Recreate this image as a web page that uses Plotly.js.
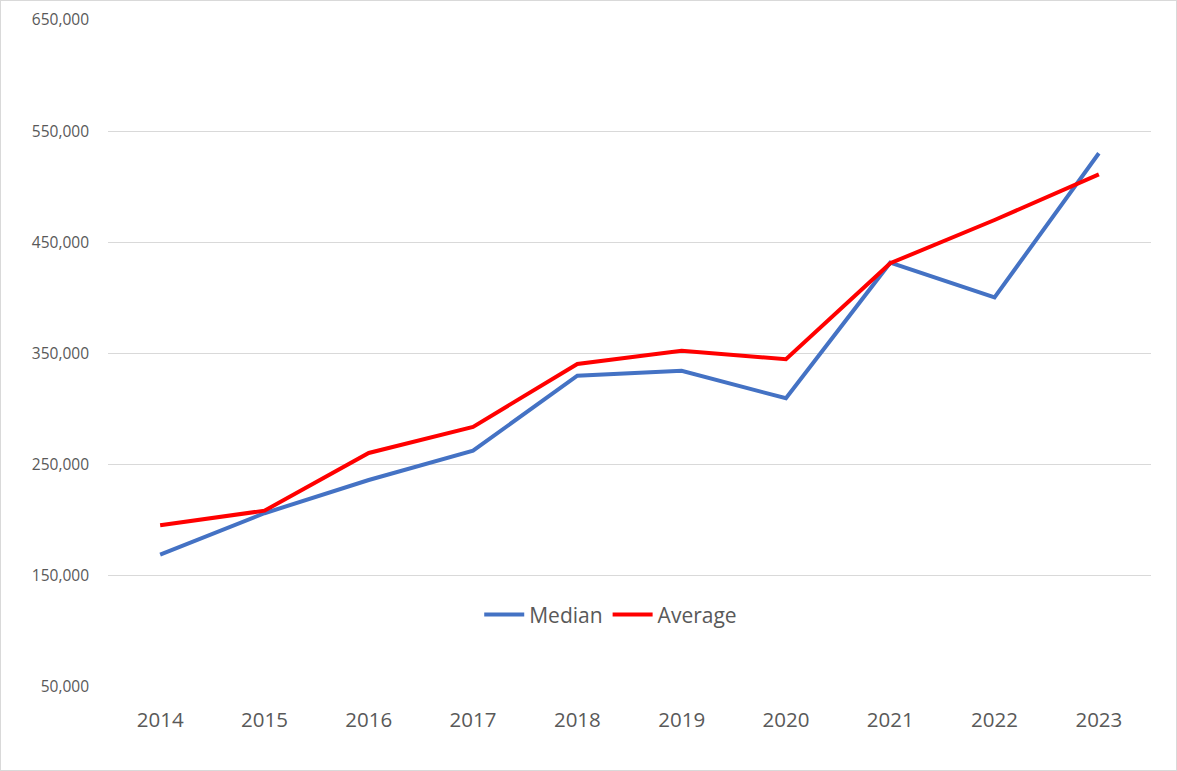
<!DOCTYPE html>
<html>
<head>
<meta charset="utf-8">
<script src="https://cdn.plot.ly/plotly-3.0.1.min.js"></script>
<style>
html,body{margin:0;padding:0;background:#fff;}
#chart{width:1175px;height:769px;border:1px solid #d9d9d9;}
</style>
</head>
<body>
<div id="chart"></div>
<script>
const years = ['2014','2015','2016','2017','2018','2019','2020','2021','2022','2023'];
const median = [169000, 206300, 236200, 262600, 330000, 334500, 309700, 431700, 400500, 530100];
const average = [195500, 208600, 260500, 284000, 340600, 352500, 344800, 431200, 470100, 511200];
const yTicks = [50000, 150000, 250000, 350000, 450000, 550000, 650000];
const yTickText = ['50,000','150,000','250,000','350,000','450,000','550,000','650,000'];

const traces = [
  {x: years, y: median, name: 'Median', type: 'scatter', mode: 'lines',
   line: {color: '#4472C4', width: 4}},
  {x: years, y: average, name: 'Average', type: 'scatter', mode: 'lines',
   line: {color: '#FF0000', width: 4}}
];

const layout = {
  width: 1175, height: 769,
  margin: {l: 107, r: 25, t: 19, b: 83},
  paper_bgcolor: '#ffffff', plot_bgcolor: '#ffffff',
  font: {family: 'Open Sans, Liberation Sans, sans-serif', color: '#595959', size: 18},
  xaxis: {type: 'category', range: [-0.5, 9.5], showgrid: false, zeroline: false, showline: false,
          ticks: '', tickfont: {size: 20.5, color: '#595959'}, ticklabelstandoff: 18},
  yaxis: {range: [50000, 650000], tickvals: yTicks, ticktext: yTickText,
          showgrid: true, gridcolor: '#d9d9d9', gridwidth: 1.3, zeroline: false,
          showline: false, ticks: '', tickfont: {size: 15.5, color: '#595959'}, ticklabelstandoff: 18},
  showlegend: true,
  legend: {orientation: 'h', x: 0.482, xanchor: 'center', y: 0.108, yanchor: 'middle',
           font: {size: 21, color: '#595959'}, bgcolor: 'rgba(0,0,0,0)', itemwidth: 40, tracegroupgap: 0}
};

Plotly.newPlot('chart', traces, layout, {displayModeBar: false, staticPlot: true});
</script>
</body>
</html>
